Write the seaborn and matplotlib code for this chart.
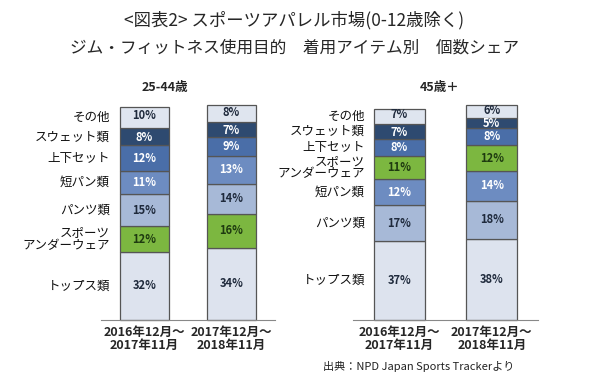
import matplotlib
matplotlib.use('Agg')
import matplotlib.pyplot as plt
import pandas as pd
import seaborn as sns

# periods on the x axis
periods = ['2016年12月～\n2017年11月', '2017年12月～\n2018年11月']

# 25-44 years, stacked bottom -> top
cats_young = ['トップス類', 'スポーツ\nアンダーウェア', 'パンツ類', '短パン類',
              '上下セット', 'スウェット類', 'その他']
young_2017 = [32, 12, 15, 11, 12, 8, 10]
young_2018 = [34, 16, 14, 13, 9, 7, 8]

# 45+ years, stacked bottom -> top
cats_senior = ['トップス類', 'パンツ類', '短パン類', 'スポーツ\nアンダーウェア',
               '上下セット', 'スウェット類', 'その他']
senior_2017 = [37, 17, 12, 11, 8, 7, 7]
senior_2018 = [38, 18, 14, 12, 8, 5, 6]

# fill colour and label colour per item
fill = {
    'トップス類': '#dde3ee',
    'スポーツ\nアンダーウェア': '#7cb740',
    'パンツ類': '#a7b9d7',
    '短パン類': '#6d8cc1',
    '上下セット': '#4a6ea8',
    'スウェット類': '#2e4a70',
    'その他': '#dfe5ef',
}
text_col = {
    'トップス類': '#1f2a3c',
    'スポーツ\nアンダーウェア': '#1e3a10',
    'パンツ類': '#1f2a3c',
    '短パン類': '#ffffff',
    '上下セット': '#ffffff',
    'スウェット類': '#ffffff',
    'その他': '#1f2a3c',
}

sns.set_style('white')
plt.rcParams['font.family'] = ['Noto Sans CJK JP', 'DejaVu Sans']


def stacked_panel(ax, cats, first, second, title, title_x, label_x):
    """Draw one stacked bar panel with item labels on the left."""
    df = pd.DataFrame({'cat': cats, 'first': first, 'second': second})
    bottoms = [0, 0]
    for _, row in df.iterrows():
        vals = [row['first'], row['second']]
        sns.barplot(x=periods, y=vals, bottom=bottoms, color=fill[row['cat']],
                    saturation=1, width=0.555, edgecolor='#555555',
                    linewidth=0.9, clip_on=False, ax=ax)
        texts = ax.bar_label(ax.containers[-1], labels=[f'{v}%' for v in vals],
                             label_type='center', color=text_col[row['cat']],
                             fontsize=8, fontweight='bold')
        # nudge the thin top rows apart a little
        if row['cat'] == 'その他':
            for t in texts:
                t.xyann = (0, 1.5)
        elif row['cat'] == 'スウェット類':
            for t in texts:
                t.xyann = (0, -0.5)
        # item name next to the first bar
        ax.text(label_x, bottoms[0] + vals[0] / 2, row['cat'],
                transform=ax.get_yaxis_transform(), ha='right', va='center',
                fontsize=9, linespacing=0.95, color='#111111')
        bottoms = [bottoms[0] + vals[0], bottoms[1] + vals[1]]

    ax.set_ylim(0, 100)
    ax.set_xlim(-0.5, 1.5)
    ax.set_yticks([])
    ax.set_ylabel('')
    sns.despine(ax=ax, left=True)
    ax.spines['bottom'].set_color('#888888')
    ax.tick_params(axis='x', length=0, pad=4)
    for lab in ax.get_xticklabels():
        lab.set_fontweight('bold')
        lab.set_fontsize(9)
        lab.set_linespacing(1.0)
    ax.figure.text(title_x, 1 - 88 / 385, title, ha='center', va='center',
                   fontsize=9, fontweight='bold')


fig = plt.figure(figsize=(6, 3.85), dpi=100)
ax1 = fig.add_axes([101 / 600, 65 / 385, 174 / 600, 213 / 385])
ax2 = fig.add_axes([353 / 600, 65 / 385, 185 / 600, 213 / 385])

stacked_panel(ax1, cats_young, young_2017, young_2018, '25-44歳', 165 / 600, 0.052)
stacked_panel(ax2, cats_senior, senior_2017, senior_2018, '45歳＋', 440 / 600, 0.065)

fig.text(0.49, 1 - 20 / 385, '<図表2> スポーツアパレル市場(0-12歳除く)',
         ha='center', va='center', fontsize=12.5)
fig.text(0.49, 1 - 48 / 385, 'ジム・フィットネス使用目的　着用アイテム別　個数シェア',
         ha='center', va='center', fontsize=12)
fig.text(323 / 600, 1 - 366 / 385, '出典：NPD Japan Sports Trackerより',
         ha='left', va='center', fontsize=8, color='#222222')

fig.savefig('out.png', dpi=100)
